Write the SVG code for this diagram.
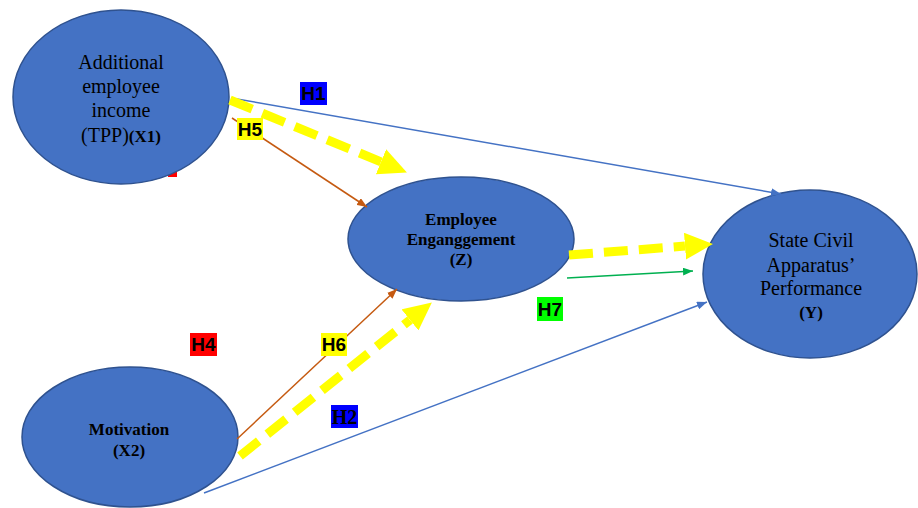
<svg xmlns="http://www.w3.org/2000/svg" width="918" height="508" viewBox="0 0 918 508">
<style>
.node{fill:#4472C4;stroke:#2F528F;stroke-width:1.5}
.t{font-family:"Liberation Serif","Times New Roman",serif;font-size:20px;fill:#000;text-anchor:middle}
.tb{font-family:"Liberation Serif","Times New Roman",serif;font-size:17px;font-weight:bold;fill:#000;text-anchor:middle}
.lab{font-family:"Liberation Sans",Arial,sans-serif;font-size:19px;font-weight:bold;fill:#000;text-anchor:middle}
.labs{font-family:"Liberation Serif","Times New Roman",serif;font-size:20px;font-weight:bold;fill:#000;text-anchor:middle}
.yel{stroke:#FFFF00;stroke-width:9;stroke-dasharray:24 11;fill:none}
.blue{stroke:#4472C4;stroke-width:1.5;fill:none}
.orange{stroke:#C55A11;stroke-width:1.5;fill:none}
.green{stroke:#00B050;stroke-width:1.5;fill:none}
</style>
<defs>
<marker id="ay" markerUnits="userSpaceOnUse" viewBox="0 0 28 27" markerWidth="28" markerHeight="27" refX="0" refY="13.5" orient="auto"><path d="M0,0 L28,13.5 L0,27 z" fill="#FFFF00"/></marker>
<marker id="ab" markerUnits="userSpaceOnUse" viewBox="0 0 10 8" markerWidth="10" markerHeight="8" refX="10" refY="4" orient="auto"><path d="M0,0 L10,4 L0,8 z" fill="#4472C4"/></marker>
<marker id="ao" markerUnits="userSpaceOnUse" viewBox="0 0 10 8" markerWidth="10" markerHeight="8" refX="10" refY="4" orient="auto"><path d="M0,0 L10,4 L0,8 z" fill="#C55A11"/></marker>
<marker id="ag" markerUnits="userSpaceOnUse" viewBox="0 0 10 8" markerWidth="10" markerHeight="8" refX="10" refY="4" orient="auto"><path d="M0,0 L10,4 L0,8 z" fill="#00B050"/></marker>
</defs>
<rect x="168" y="165" width="9" height="12" fill="#FF0000"/>
<g id="node-x1">
<ellipse class="node" cx="121" cy="97" rx="108" ry="87"/>
<text class="t" x="121" y="69">Additional</text>
<text class="t" x="121" y="93">employee</text>
<text class="t" x="121" y="117">income</text>
<text class="t" x="121" y="142">(TPP)<tspan style="font-weight:bold;font-size:17px">(X1)</tspan></text>
</g>
<g id="node-z">
<ellipse class="node" cx="461" cy="239" rx="113" ry="62"/>
<text class="tb" x="461" y="225">Employee</text>
<text class="tb" x="461" y="245">Enganggement</text>
<text class="tb" x="461" y="265">(Z)</text>
</g>
<g id="node-y">
<ellipse class="node" cx="810" cy="274" rx="107" ry="84"/>
<text class="t" x="811" y="247">State Civil</text>
<text class="t" x="811" y="272">Apparatus’</text>
<text class="t" x="811" y="295">Performance</text>
<text class="tb" x="811" y="318">(Y)</text>
</g>
<g id="node-x2">
<ellipse class="node" cx="130" cy="437" rx="108" ry="70"/>
<text class="tb" x="129" y="435">Motivation</text>
<text class="tb" x="129" y="456">(X2)</text>
</g>
<g id="connectors">
<line class="blue" x1="231" y1="98" x2="781" y2="194" marker-end="url(#ab)"/>
<line class="orange" x1="232" y1="118" x2="367" y2="207" marker-end="url(#ao)"/>
<line class="yel" x1="230" y1="100" x2="381" y2="161.8" marker-end="url(#ay)"/>
<line class="yel" x1="569" y1="255" x2="685" y2="246.1" marker-end="url(#ay)"/>
<line class="green" x1="567" y1="278" x2="693" y2="271" marker-end="url(#ag)"/>
<line class="blue" x1="204" y1="493" x2="707" y2="302" marker-end="url(#ab)"/>
<line class="orange" x1="237" y1="439" x2="397" y2="289" marker-end="url(#ao)"/>
<line class="yel" x1="240" y1="456" x2="410" y2="319.9" marker-end="url(#ay)"/>
</g>
<g id="labels">
<g id="lab-h1"><rect x="300" y="82" width="27" height="23" fill="#0000FF"/><text class="lab" x="313.5" y="100">H1</text></g>
<g id="lab-h5"><rect x="237" y="118" width="26" height="22" fill="#FFFF00"/><text class="lab" x="250" y="136">H5</text></g>
<g id="lab-h4"><rect x="190" y="333" width="27" height="23" fill="#FF0000"/><text class="lab" x="203.5" y="351">H4</text></g>
<g id="lab-h6"><rect x="321" y="333" width="26" height="23" fill="#FFFF00"/><text class="lab" x="334" y="351">H6</text></g>
<g id="lab-h2"><rect x="331" y="405" width="27" height="23" fill="#0000FF"/><text class="labs" x="344.5" y="424">H2</text></g>
<g id="lab-h7"><rect x="537" y="297" width="26" height="24" fill="#00FF00"/><text class="lab" x="550" y="316">H7</text></g>
</g>
</svg>
